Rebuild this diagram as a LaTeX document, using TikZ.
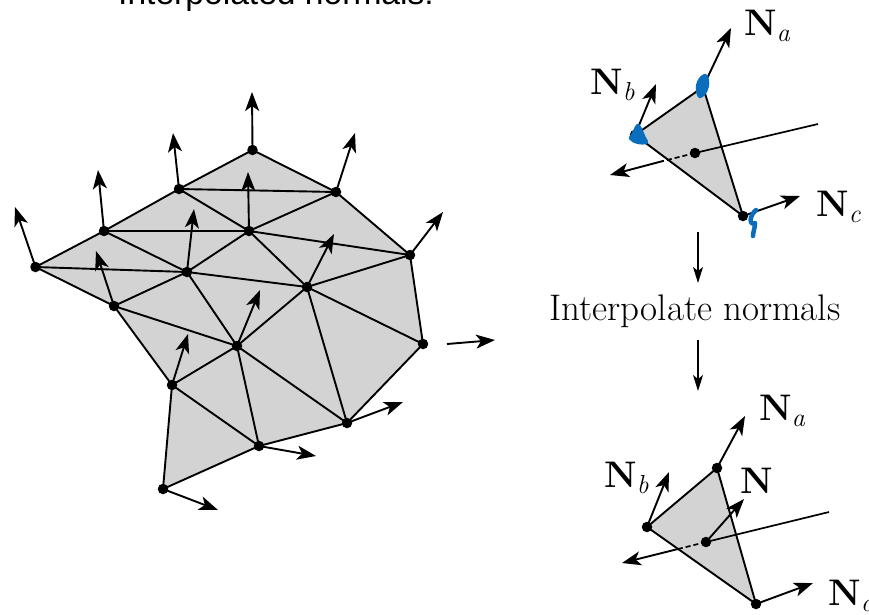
\documentclass[tikz,border=0pt]{standalone}
\usepackage{fontspec}
\newfontfamily\titlefont{Liberation Sans}
\usetikzlibrary{arrows.meta}
\definecolor{meshgray}{HTML}{D3D3D3}
\definecolor{inkblue}{HTML}{0A6EBD}
\newcommand{\subN}[1]{\textbf{N}\raisebox{-6pt}{\fontsize{26}{28}\selectfont\itshape #1}}
\tikzset{
  vtx/.style={circle,fill=black,inner sep=0pt,minimum size=10.5pt},
  edge/.style={black,line width=1.9pt,line cap=round},
  normal/.style={black,line width=1.9pt,-{Stealth[length=19pt,width=14pt,inset=5pt]}},
  flow/.style={black,line width=1.3pt,-{Stealth[length=16pt,width=10pt,inset=4pt]}},
  ray/.style={black,line width=1.7pt},
  lab/.style={inner sep=0pt,font=\fontsize{37}{40}\selectfont},
  blob/.style={draw=inkblue,line width=4.5pt,line cap=round,line join=round}
}
\begin{document}
\begin{tikzpicture}[x=1pt,y=-1pt]
\useasboundingbox (0,0) rectangle (869,614);
% mesh vertices
\foreach \n/\x/\y in {v1/35.5/267,v2/104/231,v3/179/189,v4/252.5/150,v5/336/192,v6/410/255,v7/423/344,v8/347/423,v9/259/446,v10/163/489,v11/172/385,v12/114/306,ma/187/272,mb/249/231,mc/307/287,md/237/346}
  \coordinate (\n) at (\x,\y);
\fill[meshgray] (v1)--(v2)--(v3)--(v4)--(v5)--(v6)--(v7)--(v8)--(v9)--(v10)--(v11)--(v12)--cycle;
\foreach \p/\q in {v1/v2,v2/v3,v3/v4,v4/v5,v5/v6,v6/v7,v7/v8,v8/v9,v9/v10,v10/v11,v11/v12,v12/v1,v3/v5,v2/mb,v3/mb,mb/v5,v2/ma,v1/ma,ma/mb,ma/v12,ma/mc,mb/mc,mb/v6,mc/v6,mc/v7,mc/v8,mc/md,ma/md,v12/md,md/v11,md/v9,md/v8,v11/v9}
  \draw[edge] (\p) -- (\q);
\foreach \n/\x/\y in {t1/15/207,t2/98/170,t3/173/133,t4/252/92,t5/355/133,t6/443/212,t8/403/402,t9/316/456,t10/218/510,t11/188/334,t12/96/251,ta/194/209,tb/248/172,tc/334/234,td/260/290}
  \coordinate (\n) at (\x,\y);
\foreach \p/\q in {v1/t1,v2/t2,v3/t3,v4/t4,v5/t5,v6/t6,v8/t8,v9/t9,v10/t10,v11/t11,v12/t12,ma/ta,mb/tb,mc/tc,md/td}
  \draw[normal] (\p) -- (\q);
\coordinate (s7) at (447,344); \coordinate (t7) at (495,340);
\draw[normal] (s7) -- (t7);
\foreach \n in {v1,v2,v3,v4,v5,v6,v7,v8,v9,v10,v11,v12,ma,mb,mc,md}
  \node[vtx] (n\n) at (\n) {};
% top triangle
\coordinate (ua) at (703,87); \coordinate (ub) at (635,135); \coordinate (uc) at (743,216); \coordinate (um) at (695,153);
\coordinate (ue) at (818,124); \coordinate (ux) at (610,175); \coordinate (uk) at (663,161);
\fill[meshgray] (ua)--(ub)--(uc)--cycle;
\draw[edge] (ua)--(ub)--(uc)--cycle;
\draw[ray] (ue) -- (um);
\draw[ray,dash pattern=on 5pt off 3pt] (um) -- (uk);
\draw[normal] (uk) -- (ux);
\coordinate (uta) at (731,28); \coordinate (utb) at (656,84); \coordinate (utc) at (800,196);
\draw[normal] (ua) -- (uta); \draw[normal] (ub) -- (utb); \draw[normal] (uc) -- (utc);
\node[vtx] (nua) at (ua) {}; \node[vtx] (nub) at (ub) {}; \node[vtx] (nuc) at (uc) {}; \node[vtx] (num) at (um) {};
\draw[blob,fill=inkblue] (705,76) .. controls (709,80) and (707,93) .. (700,96) .. controls (696,90) and (698,79) .. (705,76);
\draw[blob,fill=inkblue] (638,126) .. controls (635,130) and (635,134) .. (631,138) .. controls (634,142) and (642,143) .. (646,142) .. controls (642,136) and (641,130) .. (638,126);
\draw[blob] (756,210) .. controls (749,216) and (749,226) .. (755,223) .. controls (755,228) and (753,232) .. (753,236);
\node[lab,anchor=west] (lua) at (744,26) {\subN{a}};
\node[lab,anchor=west] (lub) at (590,85) {\subN{b}};
\node[lab,anchor=west] (luc) at (816,207) {\subN{c}};
% flow
\coordinate (f1) at (698,232); \coordinate (f2) at (698,283); \coordinate (f3) at (698,340); \coordinate (f4) at (698,391);
\draw[flow] (f1) -- (f2);
\node[lab] (interp) at (695,311) {Interpolate normals};
\draw[flow] (f3) -- (f4);
% bottom triangle
\coordinate (wa) at (717,468); \coordinate (wb) at (647,527); \coordinate (wc) at (756,604); \coordinate (wm) at (706,542);
\coordinate (we) at (829,512); \coordinate (wx) at (622,563); \coordinate (wk) at (678,549);
\fill[meshgray] (wa)--(wb)--(wc)--cycle;
\draw[edge] (wa)--(wb)--(wc)--cycle;
\draw[ray] (we) -- (wm);
\draw[ray,dash pattern=on 5pt off 3pt] (wm) -- (wk);
\draw[normal] (wk) -- (wx);
\coordinate (wta) at (745,416); \coordinate (wtb) at (669,472); \coordinate (wtc) at (813,583); \coordinate (wtm) at (744,499);
\draw[normal] (wa) -- (wta); \draw[normal] (wb) -- (wtb); \draw[normal] (wc) -- (wtc); \draw[normal] (wm) -- (wtm);
\node[vtx] (nwa) at (wa) {}; \node[vtx] (nwb) at (wb) {}; \node[vtx] (nwc) at (wc) {}; \node[vtx] (nwm) at (wm) {};
\node[lab,anchor=west] (lwa) at (759,411) {\subN{a}};
\node[lab,anchor=west] (lwb) at (604,478) {\subN{b}};
\node[lab,anchor=west] (lwc) at (828,596) {\subN{c}};
\node[lab,anchor=west] (lwm) at (740,481) {\textbf{N}};
% title
\node[anchor=base west,inner sep=0pt,font=\titlefont\fontsize{33.6}{38}\selectfont] (title) at (118,4) {Interpolated normals:};
\end{tikzpicture}
\end{document}
